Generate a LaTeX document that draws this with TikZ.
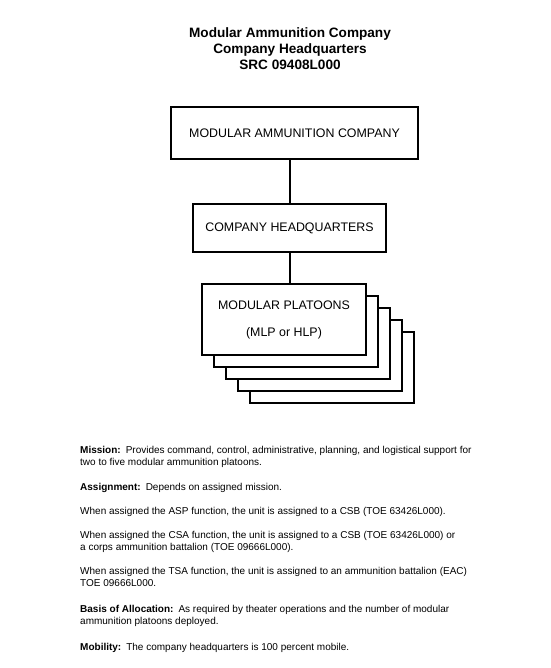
\documentclass[tikz,border=0pt]{standalone}
\usepackage{fontspec}
\setmainfont{Liberation Sans}
\usepackage{tikz}
\tikzset{
  orgbox/.style={draw,line width=2pt,fill=white,inner sep=0pt,font=\fontsize{12.4}{15}\selectfont},
  bodytext/.style={anchor=base west,align=left,inner sep=0pt,font=\fontsize{10}{12}\selectfont},
}

\begin{document}
\begin{tikzpicture}[x=1pt,y=-1pt]
\useasboundingbox (0,0) rectangle (550,668);
% title
\node[align=center,font=\fontsize{13.6}{15.8}\selectfont\bfseries,inner sep=0pt] (title) at (290,48.5)
      {Modular Ammunition Company\\Company Headquarters\\SRC 09408L000};
% boxes
\node[orgbox,minimum width=247pt,minimum height=52pt] (mac) at (294.5,133) {MODULAR AMMUNITION COMPANY};
\node[orgbox,minimum width=193pt,minimum height=48pt] (hq) at (289.5,228) {COMPANY HEADQUARTERS};
\foreach \k in {4,3,2,1} {
  \node[orgbox,minimum width=164pt,minimum height=71pt] (mlp\k) at (284+12*\k,319.5+12*\k) {};
}
\node[orgbox,minimum width=164pt,minimum height=71pt,align=center,font=\fontsize{12.4}{27}\selectfont] (mlp) at (284,319.5)
      {MODULAR PLATOONS\\(MLP or HLP)};
\draw[line width=2pt] (mac.south -| hq) -- (hq.north);
\draw[line width=2pt] (hq.south) -- (hq.south |- mlp.north);
% text below the chart (base = last line)
\node[bodytext] (mission) at (80,465.5) {\textbf{Mission:}\enspace Provides command, control, administrative, planning, and logistical support for\\two to five modular ammunition platoons.};
\node[bodytext] (assign) at (80,490.5) {\textbf{Assignment:}\enspace Depends on assigned mission.};
\node[bodytext] (asp) at (80,514.5) {When assigned the ASP function, the unit is assigned to a CSB (TOE 63426L000).};
\node[bodytext] (csa) at (80,550.5) {When assigned the CSA function, the unit is assigned to a CSB (TOE 63426L000) or\\a corps ammunition battalion (TOE 09666L000).};
\node[bodytext] (tsa) at (80,586.5) {When assigned the TSA function, the unit is assigned to an ammunition battalion (EAC)\\TOE 09666L000.};
\node[bodytext] (basis) at (80,624.5) {\textbf{Basis of Allocation:}\enspace As required by theater operations and the number of modular\\ammunition platoons deployed.};
\node[bodytext] (mobility) at (80,650.5) {\textbf{Mobility:}\enspace The company headquarters is 100 percent mobile.};
\end{tikzpicture}
\end{document}
